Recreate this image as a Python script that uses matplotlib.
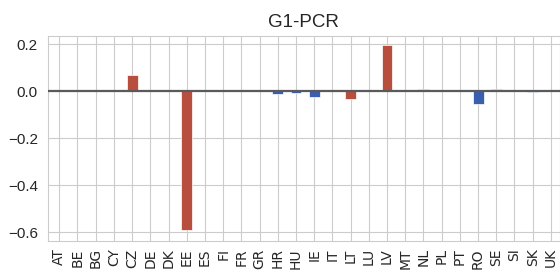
import matplotlib
matplotlib.use("Agg")
import matplotlib.pyplot as plt
import numpy as np
import seaborn as sns

# country codes and G1-PCR values (red = highlighted countries)
countries = ["AT", "BE", "BG", "CY", "CZ", "DE", "DK", "EE", "ES", "FI",
             "FR", "GR", "HR", "HU", "IE", "IT", "LT", "LU", "LV", "MT",
             "NL", "PL", "PT", "RO", "SE", "SI", "SK", "UK"]
values = [0.0, 0.0, 0.0, 0.0, 0.071, 0.0, 0.0, -0.592, 0.007, 0.0,
          0.0, 0.007, -0.011, -0.005, -0.022, 0.0, -0.031, 0.0, 0.196, 0.0,
          0.010, 0.0, 0.0, -0.055, 0.009, 0.0, -0.004, 0.0]
highlight = ["CZ", "EE", "LT", "LV"]

sns.set_style("whitegrid")
plt.rcParams["font.family"] = ["Liberation Sans", "DejaVu Sans"]

red = "#b84f3e"
blue = "#3a5fae"
colors = [red if c in highlight else blue for c in countries]

fig = plt.figure(figsize=(5.6, 2.71), dpi=100)
ax = fig.add_axes([0.085, 0.112, 0.915, 0.756])

x = np.arange(len(countries))
ax.bar(x, values, width=0.6, color=colors, edgecolor="white", linewidth=0.5, zorder=2)
ax.axhline(0, color="#5a5a5a", linewidth=1.6, zorder=3)

ax.set_xticks(x)
ax.set_xticklabels(countries, rotation=90, fontsize=10, family=["DejaVu Sans"])
ax.tick_params(axis="x", pad=2)
ax.set_yticks([0.2, 0.0, -0.2, -0.4, -0.6])
ax.tick_params(axis="y", labelsize=11)
ax.set_xlim(-0.64, 27.5)
ax.set_ylim(-0.636, 0.237)
ax.set_title("G1-PCR", fontsize=13.5)

fig.savefig("out.png", dpi=100)
